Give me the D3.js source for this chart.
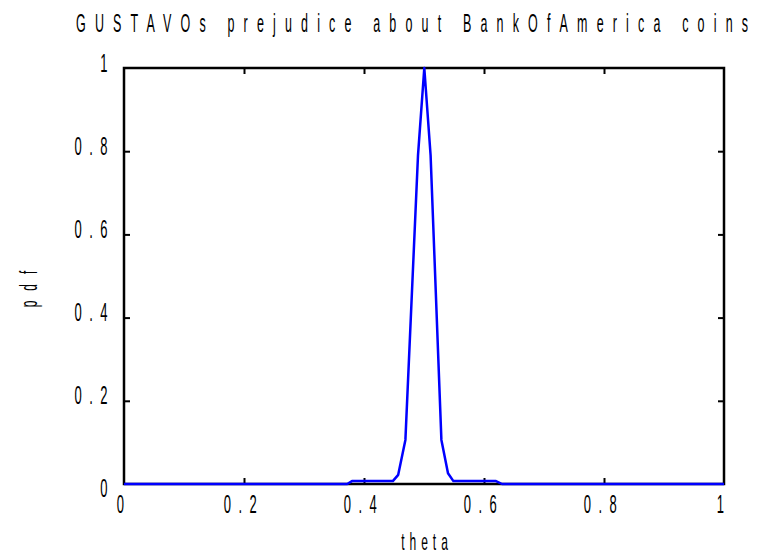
<html>
  <head>
    <script src="https://d3js.org/d3.v7.min.js"></script>
    <style>
      body { margin: 0; background: #fff; }
      text { font-family: "Liberation Sans", Arial, sans-serif; fill: #000; }
    </style>
  </head>
  <body>
<div id="my_dataviz"></div>
<script>
// data
var theta = [0, 0.372, 0.38, 0.448, 0.457, 0.469, 0.49, 0.5005, 0.511, 0.529, 0.54, 0.549, 0.62, 0.63, 1];
var pdf   = [0, 0, 0.007, 0.007, 0.022, 0.106, 0.79, 1, 0.79, 0.106, 0.026, 0.007, 0.007, 0, 0];
var thetaTicks = [0, 0.2, 0.4, 0.6, 0.8, 1];
var pdfTicks = [0, 0.2, 0.4, 0.6, 0.8, 1];
var innerTicks = [0.2, 0.4, 0.6, 0.8];
var title = "GUSTAVOs prejudice about BankOfAmerica coins";

var margin = {top: 68, right: 43, bottom: 71, left: 124},
    width = 767 - margin.left - margin.right,
    height = 555 - margin.top - margin.bottom;

var sx = 0.5; // squeeze glyphs horizontally

var root = d3.select("#my_dataviz")
  .append("svg")
    .attr("width", 767)
    .attr("height", 555);

var svg = root.append("g")
    .attr("transform", "translate(" + margin.left + "," + margin.top + ")");

var x = d3.scaleLinear().domain([0, 1]).range([0, width]);
var y = d3.scaleLinear().domain([0, 1]).range([height, 0]);

// inward ticks on all four sides
svg.append("g").attr("transform", "translate(0," + height + ")")
  .call(d3.axisBottom(x).tickValues(innerTicks).tickSizeInner(-6).tickSizeOuter(0).tickFormat(""));
svg.append("g")
  .call(d3.axisTop(x).tickValues(innerTicks).tickSizeInner(-6).tickSizeOuter(0).tickFormat(""));
svg.append("g")
  .call(d3.axisLeft(y).tickValues(innerTicks).tickSizeInner(-6).tickSizeOuter(0).tickFormat(""));
svg.append("g").attr("transform", "translate(" + width + ",0)")
  .call(d3.axisRight(y).tickValues(innerTicks).tickSizeInner(-6).tickSizeOuter(0).tickFormat(""));
svg.selectAll(".domain").remove();
svg.selectAll(".tick line").attr("stroke", "#000").attr("stroke-width", 2);

// tick labels, spaced out like the original
svg.append("g").selectAll("text")
  .data(thetaTicks)
  .enter()
  .append("text")
    .attr("transform", function (d) { return "translate(" + x(d) + "," + (height + 29) + ") scale(" + sx + ",1)"; })
    .attr("text-anchor", "middle")
    .style("font-size", "26px")
    .style("letter-spacing", "15px")
    .text(function (d) { return String(d); });

svg.append("g").selectAll("text")
  .data(pdfTicks)
  .enter()
  .append("text")
    .attr("transform", function (d) { return "translate(-9," + (y(d) + (d === 0 ? 13 : 3.5)) + ") scale(" + sx + ",1)"; })
    .attr("text-anchor", "end")
    .style("font-size", "26px")
    .style("letter-spacing", "15px")
    .text(function (d) { return String(d); });

// frame
svg.append("rect")
  .attr("x", 0).attr("y", 0)
  .attr("width", width).attr("height", height)
  .attr("fill", "none")
  .attr("stroke", "#000")
  .attr("stroke-width", 2.5);

// the curve
var pts = theta.map(function (t, i) { return [t, pdf[i]]; });
svg.append("path")
  .datum(pts)
  .attr("fill", "none")
  .attr("stroke", "#0000ff")
  .attr("stroke-width", 2.5)
  .attr("stroke-linejoin", "round")
  .attr("d", d3.line()
    .x(function (d) { return x(d[0]); })
    .y(function (d) { return y(d[1]); }));

// title
root.append("text")
  .attr("transform", "translate(412,32) scale(" + sx + ",1)")
  .attr("text-anchor", "middle")
  .attr("textLength", 672 / sx)
  .attr("lengthAdjust", "spacing")
  .style("font-size", "25px")
  .text(title);

// x label
root.append("text")
  .attr("transform", "translate(427,550) scale(" + sx + ",1)")
  .attr("text-anchor", "middle")
  .style("font-size", "24px")
  .style("letter-spacing", "10px")
  .text("theta");

// y label
root.append("text")
  .attr("transform", "translate(37,284) rotate(-90) scale(" + sx + ",1)")
  .attr("text-anchor", "middle")
  .style("font-size", "24px")
  .style("letter-spacing", "20px")
  .text("pdf");
</script>
  </body>
</html>
